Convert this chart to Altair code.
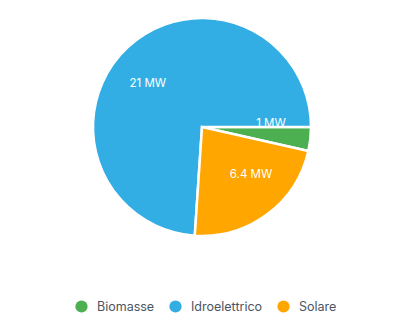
import math
import altair as alt
import pandas as pd

categories = ["Biomasse", "Idroelettrico", "Solare"]
values = [1.0, 21.0, 6.4]
labels = ["1 MW", "21 MW", "6.4 MW"]
colors = ["#4CAF50", "#33AEE5", "#FFA600"]

df = pd.DataFrame({"fonte": categories, "potenza": values, "etichetta": labels})

theta = alt.Theta("potenza:Q", stack=True,
                  scale=alt.Scale(range=[math.pi / 2, math.pi / 2 + 2 * math.pi]))
order = alt.Order("potenza:Q", sort="ascending")
color = alt.Color(
    "fonte:N",
    scale=alt.Scale(domain=categories, range=colors),
    legend=alt.Legend(
        title=None,
        orient="none",
        direction="horizontal",
        legendX=75,
        legendY=300,
        symbolType="circle",
        symbolSize=150,
        symbolStrokeWidth=0,
        symbolOpacity=1,
        labelFont="Inter",
        labelFontSize=12.5,
        labelColor="#4B5563",
        labelOffset=9,
        columnPadding=14,
    ),
)

arcs = alt.Chart(df).mark_arc(outerRadius=109, stroke="white", strokeWidth=2.5).encode(
    theta=theta, order=order, color=color
)

text = alt.Chart(df).mark_text(
    radius=69, font="Inter", fontSize=11.5, color="white", thetaOffset=-0.15
).encode(theta=theta, order=order, text="etichetta:N")

chart = (
    alt.layer(arcs, text)
    .properties(
        width=404,
        height=254,
        autosize=alt.AutoSizeParams(type="none"),
        padding={"left": 0, "top": 0, "right": 0, "bottom": 66},
    )
    .configure_view(stroke=None)
    .configure(background="white")
)

chart.save("out.html", embed_options={"renderer": "svg", "actions": False})
